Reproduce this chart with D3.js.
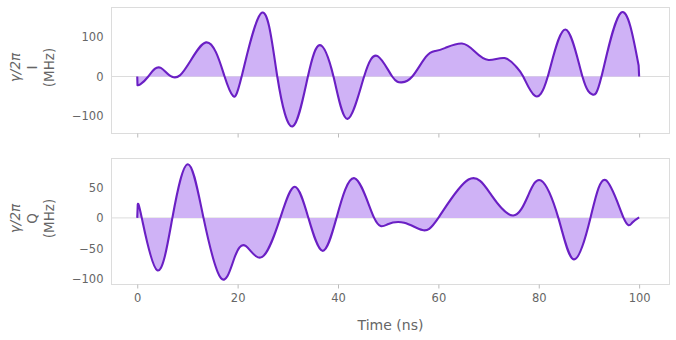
<!DOCTYPE html>
<html>
<head>
<meta charset="utf-8">
<script src="https://cdn.jsdelivr.net/npm/d3@7"></script>
<style>
  html, body { margin: 0; padding: 0; background: #fff; }
  svg { display: block; font-family: "DejaVu Sans", sans-serif; }
</style>
</head>
<body>
<svg id="chart" width="676" height="340"></svg>
<script>
// ---- data ----
const timeI = [0, 0.05, 0.6, 2.2, 4.7, 8.5, 13.7, 17.4, 19.1, 20.8, 24.9, 27.9, 31.0, 34.0, 36.4, 39.1, 41.9, 45.2, 47.9, 50.8, 52.7, 54.8, 57.5, 59.4, 61.4, 64.7, 67.3, 70.0, 73.2, 75.5, 76.9, 79.2, 81.8, 85.3, 88.7, 90.7, 92.5, 96.4, 99.9, 100];
const valI  = [0, -22, -20, 0, 22, 3, 87, 0, -50, 0, 163, 0, -127, 0, 80, 0, -108, 0, 52, 0, -15, 0, 50, 65, 73, 84, 63, 42, 47, 25, 0, -49, 0, 120, 0, -46, 0, 163, 28, 0];
const timeQ = [0, 0.1, 0.9, 4.0, 7.0, 10.1, 13.2, 16.7, 19.3, 21.6, 24.9, 28.5, 31.4, 34.1, 36.9, 39.7, 43.3, 47.2, 49.9, 53.2, 56.8, 60.0, 66.0, 70.6, 74.9, 77.9, 80.5, 83.9, 87.0, 90.3, 93.3, 96.9, 98.6, 100];
const valQ  = [0, 22, 0, -86, 0, 88, 0, -99, -67, -46, -64, 0, 51, 0, -54, 0, 65, 0, -10.5, -8, -20, 0, 63, 37, 4, 37, 61, 0, -68, 0, 62, 0, -8, 1];
const xTicks = [0, 20, 40, 60, 80, 100];
const yTicksI = [-100, 0, 100];
const yTicksQ = [-100, -50, 0, 50];
const panelNames = ["I", "Q"];
const xLabel = "Time (ns)";

// ---- layout ----
const svg = d3.select("#chart");
const left = 111.5, right = 669.5;
const lineColor = "#6a1fc4";
const fillColor = "#cfb2f6";
const spineColor = "#dcdcdc";
const tickTextColor = "#666666";

const x = d3.scaleLinear().domain([-5.13, 106.05]).range([left, right]);

// head/tail: number of samples joined by straight segments at each end
const panels = [
  { t: timeI, v: valI, ticks: yTicksI, top: 7.5, bottom: 133.5, domain: [-145.4, 176], name: panelNames[0], showX: false, head: 1, tail: 1 },
  { t: timeQ, v: valQ, ticks: yTicksQ, top: 158.5, bottom: 284.5, domain: [-109.2, 97.4], name: panelNames[1], showX: true, head: 1, tail: 0 }
];

const fmt = d => d < 0 ? "\u2212" + Math.abs(d) : String(d);
const curve = d3.curveNatural;

panels.forEach(p => {
  const y = d3.scaleLinear().domain(p.domain).range([p.bottom, p.top]);
  const g = svg.append("g");
  const data = p.t.map((t, i) => [t, p.v[i]]);
  const body = data.slice(p.head, data.length - p.tail);
  const headPts = data.slice(0, p.head);
  const tailPts = data.slice(data.length - p.tail);

  // zero line
  g.append("line")
    .attr("x1", left).attr("x2", right)
    .attr("y1", y(0)).attr("y2", y(0))
    .attr("stroke", spineColor).attr("stroke-width", 1);

  // area fill
  const area = d3.area().curve(curve)
    .x(d => x(d[0])).y0(y(0)).y1(d => y(d[1]));
  g.append("path").datum(body).attr("d", area)
    .attr("fill", fillColor).attr("stroke", "none");

  // line: straight segments at the ends, smooth spline in between
  const line = d3.line().curve(curve).x(d => x(d[0])).y(d => y(d[1]));
  const straight = d3.line().x(d => x(d[0])).y(d => y(d[1]));
  let dPath = line(body);
  if (headPts.length) dPath = straight(headPts.concat([body[0]])) + "L" + dPath.slice(1);
  if (tailPts.length) dPath = dPath + straight([body[body.length - 1]].concat(tailPts)).replace(/^M/, "L");
  g.append("path").attr("d", dPath)
    .attr("fill", "none").attr("stroke", lineColor)
    .attr("stroke-width", 2.1).attr("stroke-linejoin", "round");

  // spines (box)
  g.append("rect")
    .attr("x", left).attr("y", p.top)
    .attr("width", right - left).attr("height", p.bottom - p.top)
    .attr("fill", "none").attr("stroke", spineColor).attr("stroke-width", 1);

  // x axis
  const xAxis = d3.axisBottom(x).tickValues(xTicks).tickSize(4).tickPadding(5)
    .tickFormat(p.showX ? fmt : () => "");
  const xg = g.append("g").attr("transform", `translate(0,${p.bottom})`).call(xAxis);
  xg.select(".domain").remove();
  xg.selectAll(".tick line").attr("stroke", "#bbbbbb");
  xg.selectAll(".tick text").attr("fill", tickTextColor)
    .style("font-family", "DejaVu Sans").style("font-size", "11.5px");

  // y axis
  const yAxis = d3.axisLeft(y).tickValues(p.ticks).tickSize(0).tickPadding(8).tickFormat(fmt);
  const yg = g.append("g").attr("transform", `translate(${left},0)`).call(yAxis);
  yg.select(".domain").remove();
  yg.selectAll(".tick text").attr("fill", tickTextColor)
    .style("font-family", "DejaVu Sans").style("font-size", "11.5px");

  // y label (3 lines, rotated)
  const cy = (p.top + p.bottom) / 2 - 3;
  const lab = g.append("text")
    .attr("transform", `translate(0,${cy}) rotate(-90)`)
    .attr("text-anchor", "middle")
    .attr("fill", tickTextColor)
    .style("font-family", "DejaVu Sans").style("font-size", "13.5px");
  lab.append("tspan").attr("x", 0).attr("y", 20).style("font-style", "italic").text("\u03B3/2\u03C0");
  lab.append("tspan").attr("x", 0).attr("y", 37).text(p.name);
  lab.append("tspan").attr("x", 0).attr("y", 54).text("(MHz)");
});

svg.append("text")
  .attr("x", (left + right) / 2).attr("y", 330)
  .attr("text-anchor", "middle")
  .attr("fill", tickTextColor)
  .style("font-family", "DejaVu Sans").style("font-size", "14px")
  .text(xLabel);
</script>
</body>
</html>
